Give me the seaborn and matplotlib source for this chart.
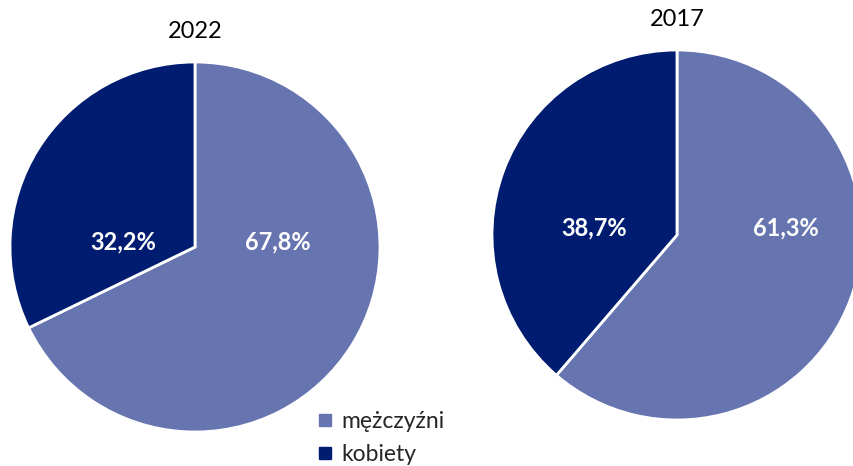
import matplotlib
matplotlib.use("Agg")
import matplotlib.pyplot as plt
from matplotlib.lines import Line2D
import seaborn as sns

years = ["2022", "2017"]
categories = ["mężczyźni", "kobiety"]
men = [67.8, 61.3]
women = [32.2, 38.7]

colors = ["#6675b0", "#001c71"]

sns.set_theme(style="white")
plt.rcParams["font.family"] = ["Lato", "DejaVu Sans"]

W, H = 854, 466
fig = plt.figure(figsize=(W / 100, H / 100), dpi=100)

# pie centres / radius in pixels (from the top-left corner)
layout = [(195, 247, 185), (677, 235, 185)]
# label offsets relative to centre, in units of radius
label_pos = [[(0.45, 0.03), (-0.39, 0.03)], [(0.59, 0.04), (-0.45, 0.04)]]
title_y = [31, 19]

for i, year in enumerate(years):
    cx, cy, r = layout[i]
    ax = fig.add_axes([(cx - r) / W, (H - cy - r) / H, 2 * r / W, 2 * r / H])
    vals = [men[i], women[i]]
    ax.pie(vals, colors=colors, startangle=90, counterclock=False, radius=1,
           wedgeprops=dict(edgecolor="white", linewidth=2))
    ax.set_xlim(-1, 1)
    ax.set_ylim(-1, 1)
    for v, (lx, ly) in zip(vals, label_pos[i]):
        ax.text(lx, ly, f"{v:.1f}%".replace(".", ","), ha="center", va="center",
                color="white", fontsize=17, fontweight="bold")
    fig.text(cx / W, 1 - title_y[i] / H, year, ha="center", va="center",
             fontsize=17, color="black")

handles = [Line2D([], [], marker="s", linestyle="none", markersize=8,
                  markerfacecolor=c, markeredgecolor=c) for c in colors]
fig.legend(handles, categories, loc="upper left",
           bbox_to_anchor=(309 / W, 1 - 402 / H), frameon=False,
           fontsize=16.5, handlelength=0.6, handletextpad=0.4, labelspacing=0.5,
           borderaxespad=0)

fig.savefig("out.png", dpi=100)
